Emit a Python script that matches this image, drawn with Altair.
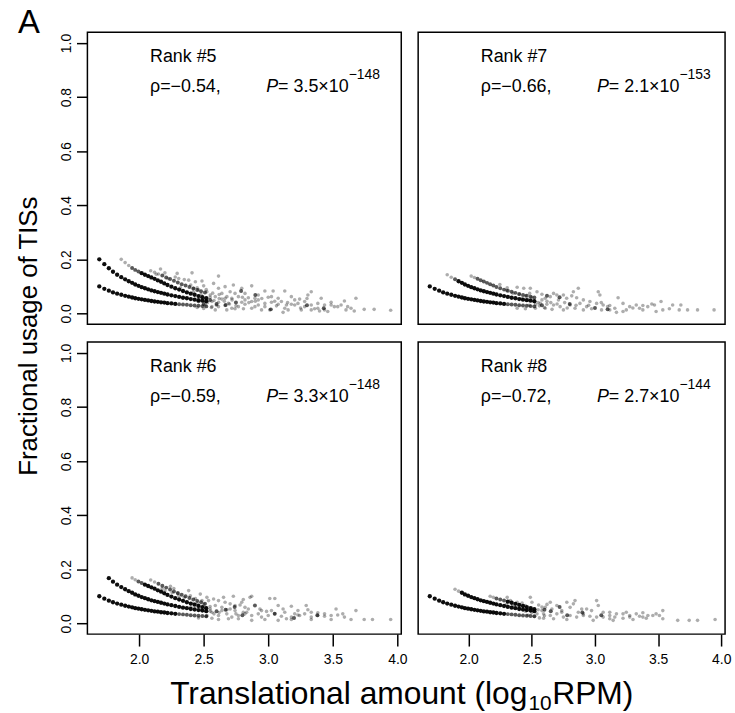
import altair as alt
import pandas as pd

FONT = "Liberation Sans"

# ---------------- data ----------------
PANELS = ["Rank #5", "Rank #7", "Rank #6", "Rank #8"]
RHO = ["\u22120.54", "\u22120.66", "\u22120.59", "\u22120.72"]
P_MANT = ["3.5", "2.1", "3.3", "2.7"]
P_EXP = ["\u2212148", "\u2212153", "\u2212148", "\u2212144"]

X_TICKS = [2.0, 2.5, 3.0, 3.5, 4.0]
Y_TICKS = [0.0, 0.2, 0.4, 0.6, 0.8, 1.0]
X_DOMAIN = [1.60, 4.03]
Y_DOMAIN = [-0.04, 1.04]

# x positions of the discrete low-count curves
CURVE_X = [1.692, 1.731, 1.766, 1.798, 1.830, 1.862, 1.892, 1.920, 1.946, 1.970,
           1.995, 2.020, 2.045, 2.070, 2.095, 2.120, 2.145, 2.170, 2.195, 2.220,
           2.250, 2.280, 2.310, 2.340, 2.370, 2.400, 2.430, 2.460, 2.490, 2.520]
C1_Y = [0.100, 0.091, 0.084, 0.078, 0.073, 0.069, 0.065, 0.062, 0.059, 0.056,
        0.054, 0.052, 0.050, 0.048, 0.046, 0.044, 0.043, 0.041, 0.040, 0.038,
        0.037, 0.035, 0.034, 0.033, 0.032, 0.030, 0.029, 0.028, 0.027, 0.026]
C2_Y = [0.200, 0.182, 0.167, 0.154, 0.143, 0.134, 0.126, 0.119, 0.113, 0.107,
        0.102, 0.097, 0.093, 0.089, 0.085, 0.082, 0.079, 0.076, 0.073, 0.070,
        0.067, 0.064, 0.061, 0.058, 0.056, 0.053, 0.051, 0.049, 0.047, 0.045]
R5_C3_Y = [0.200, 0.188, 0.177, 0.168, 0.161, 0.155, 0.149, 0.143, 0.138, 0.133,
           0.128, 0.122, 0.117, 0.111, 0.105, 0.099, 0.093, 0.088, 0.083, 0.078,
           0.073, 0.069, 0.064, 0.060, 0.056]
R7_C3_Y = [0.138, 0.133, 0.128, 0.123, 0.118, 0.113, 0.108, 0.103, 0.098, 0.093,
           0.088, 0.084, 0.080, 0.076, 0.072, 0.068, 0.065, 0.062, 0.059]
R8_C3_Y = [0.100, 0.096, 0.092, 0.088, 0.084, 0.080, 0.076, 0.072, 0.068, 0.064,
           0.060, 0.056, 0.052]
C4_X = [2.09, 2.12, 2.15, 2.18, 2.21, 2.24, 2.27, 2.30, 2.33, 2.36, 2.39, 2.42,
        2.45, 2.48, 2.51]
R5_C4_Y = [0.158, 0.152, 0.146, 0.140, 0.133, 0.127, 0.121, 0.114, 0.108, 0.103,
           0.098, 0.092, 0.087, 0.082, 0.077]
R6_C4_Y = [0.160, 0.153, 0.146, 0.139, 0.132, 0.125, 0.118, 0.112, 0.106, 0.100,
           0.094, 0.088, 0.083, 0.078, 0.072]

# first index of CURVE_X at which each curve starts in a panel
R5_C3_FROM = 5
R7_C2_FROM = 4
R7_C3_FROM = 11
R6_C2_FROM = 2
R6_C3_FROM = 8
R8_C2_FROM = 6
R8_C3_FROM = 17

# how many genes overlap at each curve point (runs of: count, level)
C1_RUNS = [(22, "many"), (8, "some")]
R5_C2_RUNS = [(30, "many")]
R5_C3_RUNS = [(3, "single"), (3, "some"), (19, "many")]
R5_C4_RUNS = [(3, "single"), (12, "some")]
R7_C2_RUNS = [(2, "single"), (1, "some"), (23, "many")]
R7_C3_RUNS = [(2, "single"), (17, "some")]
R6_C2_RUNS = [(28, "many")]
R6_C3_RUNS = [(2, "single"), (2, "some"), (18, "many")]
R6_C4_RUNS = [(2, "single"), (13, "some")]
R8_C2_RUNS = [(2, "single"), (22, "many")]
R8_C3_RUNS = [(2, "single"), (3, "some"), (8, "many")]

R5_SCATTER = [
    (2.166, 0.164), (2.133, 0.145), (2.295, 0.148), (2.410, 0.150), (2.225, 0.129), (2.307, 0.129),
    (2.384, 0.123), (2.436, 0.117), (2.487, 0.120), (2.500, 0.102), (2.615, 0.138), (2.577, 0.111),
    (2.615, 0.093), (2.666, 0.099), (2.730, 0.105), (2.795, 0.093), (2.820, 0.074), (2.872, 0.102),
    (2.743, 0.074), (2.705, 0.080), (2.769, 0.062), (2.846, 0.058), (2.923, 0.068), (2.974, 0.083),
    (3.038, 0.083), (3.128, 0.083), (3.179, 0.062), (3.243, 0.053), (3.307, 0.068), (3.333, 0.080),
    (3.410, 0.056), (3.487, 0.041), (3.590, 0.046), (3.679, 0.056), (3.487, 0.031), (3.538, 0.025),
    (3.743, 0.015), (3.820, 0.015), (3.948, 0.012), (3.666, 0.009), (3.602, 0.013), (3.436, 0.013),
    (3.384, 0.019), (3.333, 0.031), (3.282, 0.025), (3.230, 0.037), (3.179, 0.034), (3.128, 0.019),
    (3.077, 0.034), (3.025, 0.041), (2.974, 0.037), (2.923, 0.031), (2.872, 0.019), (2.820, 0.034),
    (2.769, 0.025), (2.718, 0.019), (2.666, 0.029), (2.615, 0.041), (2.564, 0.025), (2.512, 0.031),
    (2.590, 0.013), (2.679, 0.013), (2.743, 0.017), (2.808, 0.017), (2.897, 0.025), (2.948, 0.013),
    (3.012, 0.013), (3.064, 0.028), (3.115, 0.004), (3.141, 0.031), (3.205, 0.031), (3.256, 0.013),
    (3.359, 0.017), (3.397, 0.009), (3.461, 0.007), (3.512, 0.025), (3.564, 0.031), (3.615, 0.025),
    (3.641, 0.019), (3.077, 0.056), (3.102, 0.044), (2.923, 0.050), (2.820, 0.050), (2.718, 0.056),
    (2.641, 0.053), (2.590, 0.062), (2.551, 0.068), (2.525, 0.080), (2.461, 0.087), (2.423, 0.093),
    (2.641, 0.074), (2.666, 0.056), (2.872, 0.044), (2.974, 0.025), (3.025, 0.062), (3.205, 0.050),
    (3.282, 0.044), (3.384, 0.037), (3.436, 0.031), (2.692, 0.037), (2.795, 0.041), (2.897, 0.056),
    (2.564, 0.044), (2.615, 0.025), (3.333, 0.013), (3.154, 0.013), (2.400, 0.105), (2.450, 0.095),
    (2.520, 0.088), (2.480, 0.070), (2.550, 0.060), (2.580, 0.048), (2.530, 0.040), (2.600, 0.030),
    (2.560, 0.022), (2.500, 0.018), (2.450, 0.022), (2.620, 0.055), (2.660, 0.045), (2.700, 0.035),
    (2.350, 0.125), (2.280, 0.135), (2.200, 0.150), (2.320, 0.095), (2.420, 0.080), (2.570, 0.075),
    (2.620, 0.070), (2.680, 0.062), (2.720, 0.050), (2.750, 0.028), (2.800, 0.060), (2.850, 0.040),
    (2.900, 0.045), (2.950, 0.055), (3.000, 0.060), (3.050, 0.045), (3.150, 0.040), (3.250, 0.020),
    (3.300, 0.055)]
R5_DARK = [(3.020, 0.015), (2.900, 0.068), (2.790, 0.083), (2.670, 0.031), (3.430, 0.019),
           (2.550, 0.050), (2.600, 0.035), (2.750, 0.040), (3.300, 0.030), (2.500, 0.035),
           (2.460, 0.045)]

R7_SCATTER = [
    (2.247, 0.107), (2.305, 0.095), (2.384, 0.097), (2.436, 0.093), (2.488, 0.093), (2.483, 0.074),
    (2.541, 0.080), (2.580, 0.071), (2.606, 0.056), (2.646, 0.062), (2.672, 0.074), (2.698, 0.068),
    (2.711, 0.050), (2.750, 0.068), (2.776, 0.056), (2.816, 0.065), (2.829, 0.080), (2.868, 0.093),
    (2.855, 0.058), (2.908, 0.050), (2.960, 0.044), (3.026, 0.080), (3.039, 0.068), (3.013, 0.037),
    (3.065, 0.031), (3.117, 0.029), (3.183, 0.058), (3.157, 0.019), (3.222, 0.037), (3.275, 0.025),
    (3.327, 0.031), (3.353, 0.019), (3.379, 0.029), (3.418, 0.025), (3.471, 0.031), (3.523, 0.044),
    (3.537, 0.013), (3.589, 0.017), (3.615, 0.031), (3.667, 0.013), (3.680, 0.031), (3.733, 0.013),
    (3.812, 0.013), (3.943, 0.013), (3.117, 0.013), (3.222, 0.007), (2.934, 0.025), (2.881, 0.037),
    (2.803, 0.031), (2.724, 0.025), (2.672, 0.031), (2.619, 0.034), (2.567, 0.037), (2.528, 0.019),
    (2.750, 0.013), (2.842, 0.019), (2.973, 0.017), (3.052, 0.013), (2.908, 0.013), (3.170, 0.004),
    (3.379, 0.013), (3.484, 0.007), (3.248, 0.013), (2.606, 0.019), (2.449, 0.017), (2.384, 0.019),
    (2.350, 0.075), (2.400, 0.070), (2.450, 0.065), (2.500, 0.060), (2.420, 0.055), (2.470, 0.050),
    (2.520, 0.045), (2.550, 0.040), (2.300, 0.085), (2.580, 0.050), (2.620, 0.045), (2.650, 0.040),
    (2.700, 0.035), (2.560, 0.028), (2.600, 0.022), (2.480, 0.030), (2.530, 0.033), (2.660, 0.015),
    (2.760, 0.040), (2.850, 0.030), (2.950, 0.030), (3.050, 0.040), (3.100, 0.025), (3.300, 0.020),
    (3.450, 0.035), (2.780, 0.020)]
R7_DARK = [(2.720, 0.060), (2.620, 0.065), (2.580, 0.030), (2.800, 0.035), (3.000, 0.020),
           (3.100, 0.015)]

R6_SCATTER = [
    (2.179, 0.129), (2.243, 0.137), (2.269, 0.129), (2.256, 0.114), (2.307, 0.102), (2.384, 0.121),
    (2.397, 0.102), (2.436, 0.092), (2.474, 0.108), (2.487, 0.084), (2.525, 0.096), (2.538, 0.084),
    (2.577, 0.090), (2.615, 0.084), (2.654, 0.096), (2.666, 0.078), (2.730, 0.100), (2.743, 0.066),
    (2.795, 0.078), (2.807, 0.088), (2.820, 0.059), (2.859, 0.096), (2.872, 0.100), (2.936, 0.053),
    (2.987, 0.044), (3.012, 0.092), (3.051, 0.092), (3.077, 0.066), (3.115, 0.053), (3.179, 0.063),
    (3.205, 0.035), (3.243, 0.029), (3.294, 0.066), (3.333, 0.041), (3.384, 0.029), (3.436, 0.035),
    (3.487, 0.014), (3.525, 0.053), (3.577, 0.035), (3.590, 0.023), (3.679, 0.047), (3.641, 0.014),
    (3.743, 0.014), (3.807, 0.014), (3.948, 0.014), (2.564, 0.041), (2.615, 0.029), (2.641, 0.047),
    (2.679, 0.035), (2.718, 0.023), (2.769, 0.029), (2.820, 0.035), (2.872, 0.029), (2.923, 0.035),
    (2.948, 0.023), (3.000, 0.029), (3.051, 0.035), (3.102, 0.026), (3.141, 0.017), (3.179, 0.023),
    (3.230, 0.031), (3.282, 0.035), (3.333, 0.023), (3.384, 0.039), (3.436, 0.026), (3.487, 0.029),
    (3.538, 0.031), (2.692, 0.017), (2.769, 0.017), (2.872, 0.011), (2.974, 0.014), (3.077, 0.011),
    (3.179, 0.014), (3.333, 0.014), (2.615, 0.014), (2.564, 0.019), (2.525, 0.029), (2.590, 0.066),
    (2.641, 0.059), (2.705, 0.053), (2.743, 0.047), (2.807, 0.041), (2.846, 0.053), (2.948, 0.047),
    (3.025, 0.047), (3.128, 0.041), (3.230, 0.047), (3.307, 0.050), (2.705, 0.072), (2.782, 0.068),
    (2.833, 0.041), (2.551, 0.053), (2.512, 0.059), (2.461, 0.066), (2.423, 0.072), (2.200, 0.120),
    (2.300, 0.110), (2.350, 0.095), (2.450, 0.075), (2.500, 0.070), (2.550, 0.062), (2.480, 0.050),
    (2.550, 0.045), (2.580, 0.035), (2.520, 0.025), (2.460, 0.020), (2.620, 0.040), (2.680, 0.050),
    (2.750, 0.035), (2.400, 0.060)]
R6_DARK = [(2.897, 0.066), (2.740, 0.060), (2.670, 0.050), (2.600, 0.045), (3.050, 0.035),
           (3.200, 0.020), (2.800, 0.030), (3.380, 0.030)]

R8_SCATTER = [
    (2.305, 0.096), (2.423, 0.075), (2.488, 0.096), (2.501, 0.078), (2.554, 0.068), (2.580, 0.047),
    (2.606, 0.059), (2.646, 0.078), (2.659, 0.053), (2.698, 0.066), (2.737, 0.047), (2.777, 0.078),
    (2.803, 0.059), (2.829, 0.072), (2.842, 0.084), (2.868, 0.041), (2.895, 0.053), (2.908, 0.029),
    (2.973, 0.047), (3.013, 0.084), (3.026, 0.066), (3.065, 0.041), (3.117, 0.029), (3.157, 0.023),
    (3.222, 0.035), (3.275, 0.029), (3.327, 0.035), (3.379, 0.023), (3.419, 0.029), (3.484, 0.035),
    (3.537, 0.047), (3.537, 0.017), (3.655, 0.011), (3.746, 0.011), (3.812, 0.011), (3.951, 0.014),
    (2.541, 0.035), (2.593, 0.035), (2.646, 0.029), (2.698, 0.035), (2.750, 0.023), (2.803, 0.029),
    (2.855, 0.023), (2.908, 0.035), (2.960, 0.026), (3.013, 0.023), (3.065, 0.023), (3.117, 0.017),
    (3.170, 0.035), (3.222, 0.019), (3.275, 0.023), (3.353, 0.026), (3.406, 0.019), (3.458, 0.029),
    (3.510, 0.029), (2.672, 0.017), (2.777, 0.014), (2.986, 0.011), (3.144, 0.011), (3.301, 0.014),
    (2.593, 0.019), (2.737, 0.041), (2.934, 0.053), (3.117, 0.041), (3.248, 0.041), (3.379, 0.039),
    (2.449, 0.066), (2.462, 0.053), (2.501, 0.056), (2.384, 0.078), (2.331, 0.084), (2.400, 0.060),
    (2.450, 0.045), (2.500, 0.040), (2.550, 0.050), (2.580, 0.060), (2.620, 0.070), (2.520, 0.025),
    (2.470, 0.030), (2.560, 0.020), (2.350, 0.065), (2.300, 0.070), (2.600, 0.028)]
R8_DARK = [(2.720, 0.060), (2.650, 0.045), (2.780, 0.030), (2.600, 0.050), (3.050, 0.030),
           (2.900, 0.040)]

Y_TITLE = "Fractional usage of TISs"
X_TITLE_MAIN = "Translational amount (log"
X_TITLE_SUB = "10"
X_TITLE_END = "RPM)"
PANEL_LETTER = "A"

# ---------------- building tables ----------------
def expand(runs):
    out = []
    for n, level in runs:
        out += [level] * n
    return out


def curve(xs, ys, runs):
    levels = expand(runs)
    assert len(xs) == len(ys) == len(levels), (len(xs), len(ys), len(levels))
    return [{"x": x, "y": y, "overlap": l} for x, y, l in zip(xs, ys, levels)]


def cloud(pairs, level):
    return [{"x": x, "y": y, "overlap": level} for x, y in pairs]


rows = {
    0: (cloud(R5_SCATTER, "single") + cloud(R5_DARK, "some")
        + curve(C4_X, R5_C4_Y, R5_C4_RUNS)
        + curve(CURVE_X[R5_C3_FROM:], R5_C3_Y, R5_C3_RUNS)
        + curve(CURVE_X, C2_Y, R5_C2_RUNS) + curve(CURVE_X, C1_Y, C1_RUNS)),
    1: (cloud(R7_SCATTER, "single") + cloud(R7_DARK, "some")
        + curve(CURVE_X[R7_C3_FROM:], R7_C3_Y, R7_C3_RUNS)
        + curve(CURVE_X[R7_C2_FROM:], C2_Y[R7_C2_FROM:], R7_C2_RUNS)
        + curve(CURVE_X, C1_Y, C1_RUNS)),
    2: (cloud(R6_SCATTER, "single") + cloud(R6_DARK, "some")
        + curve(C4_X, R6_C4_Y, R6_C4_RUNS)
        + curve(CURVE_X[R6_C3_FROM:], R5_C3_Y[R6_C3_FROM - R5_C3_FROM:], R6_C3_RUNS)
        + curve(CURVE_X[R6_C2_FROM:], C2_Y[R6_C2_FROM:], R6_C2_RUNS)
        + curve(CURVE_X, C1_Y, C1_RUNS)),
    3: (cloud(R8_SCATTER, "single") + cloud(R8_DARK, "some")
        + curve(CURVE_X[R8_C3_FROM:], R8_C3_Y, R8_C3_RUNS)
        + curve(CURVE_X[R8_C2_FROM:], C2_Y[R8_C2_FROM:], R8_C2_RUNS)
        + curve(CURVE_X, C1_Y, C1_RUNS)),
}

# ---------------- chart ----------------
LEFT_W, RIGHT_W, PANEL_H = 316, 309, 294
TXT_X, RANK_Y, STAT_Y, EXP_Y = 63, 30, 60, 47
P_DX, EQ_DX, EXP_DX = 117, 129, 200
ANNOT_SIZE = 18
# point look for each overlap level: (opacity, area)
LOOK = {"single": (0.32, 13), "some": (0.65, 16), "many": (0.95, 19)}


def panel(i, left, bottom):
    df = pd.DataFrame(rows[i])
    x_axis = alt.Axis(values=X_TICKS, format=".1f", tickSize=12, tickWidth=1.5,
                      labelFontSize=14, labelPadding=7, title=None, domain=False,
                      grid=False, labelFlush=False, labelOverlap=False) if bottom else None
    y_axis = alt.Axis(values=Y_TICKS, format=".1f", tickSize=11, tickWidth=1.5,
                      labelFontSize=14, labelAngle=270, labelAlign="center",
                      labelBaseline="alphabetic", labelPadding=6, title=None,
                      domain=False, grid=False, labelFlush=False,
                      labelOverlap=False) if left else None
    xenc = alt.X("x:Q", scale=alt.Scale(domain=X_DOMAIN, nice=False, zero=False), axis=x_axis)
    yenc = alt.Y("y:Q", scale=alt.Scale(domain=Y_DOMAIN, nice=False, zero=False), axis=y_axis)
    base_pts = alt.Chart(df)
    layers = []
    for level in ["single", "some", "many"]:
        op, area = LOOK[level]
        layers.append(
            base_pts.transform_filter(alt.datum.overlap == level)
            .mark_circle(color="black", fill="black", opacity=op, fillOpacity=1,
                         size=area, strokeWidth=0)
            .encode(x=xenc, y=yenc)
        )
    lab = pd.DataFrame({"rank": [PANELS[i]],
                        "rho": ["\u03c1=" + RHO[i] + ","],
                        "p": ["P"],
                        "mant": ["= " + P_MANT[i] + "\u00d710"],
                        "exp": [P_EXP[i]]})
    base = alt.Chart(lab)

    def txt(field, dx, y, size=ANNOT_SIZE, style="normal"):
        return base.mark_text(align="left", baseline="alphabetic", font=FONT,
                              fontSize=size, fontStyle=style, color="black").encode(
            x=alt.value(TXT_X + dx), y=alt.value(y), text=alt.Text(field + ":N"))

    layers += [txt("rank", 0, RANK_Y), txt("rho", 0, STAT_Y),
               txt("p", P_DX, STAT_Y, style="italic"), txt("mant", EQ_DX, STAT_Y),
               txt("exp", EXP_DX, EXP_Y, size=14)]

    if i == 0:
        letter = alt.Chart(pd.DataFrame({"t": [PANEL_LETTER]})).mark_text(
            align="center", baseline="alphabetic", font=FONT, fontSize=33, color="black"
        ).encode(x=alt.value(-59), y=alt.value(1), text="t:N")
        layers.append(letter)
    if i == 2:
        ytitle = alt.Chart(pd.DataFrame({"t": [Y_TITLE]})).mark_text(
            align="center", baseline="middle", angle=270, font=FONT, fontSize=26,
            color="black").encode(x=alt.value(-59), y=alt.value(-6), text="t:N")
        xt = pd.DataFrame({"a": [X_TITLE_MAIN], "b": [X_TITLE_SUB], "c": [X_TITLE_END]})
        xmain = alt.Chart(xt).mark_text(align="right", baseline="alphabetic", font=FONT,
                                        fontSize=32, color="black").encode(
            x=alt.value(443), y=alt.value(364), text="a:N")
        xsub = alt.Chart(xt).mark_text(align="left", baseline="alphabetic", font=FONT,
                                       fontSize=21, color="black").encode(
            x=alt.value(444), y=alt.value(370), text="b:N")
        xend = alt.Chart(xt).mark_text(align="left", baseline="alphabetic", font=FONT,
                                       fontSize=32, color="black").encode(
            x=alt.value(468), y=alt.value(364), text="c:N")
        layers += [ytitle, xmain, xsub, xend]

    return alt.layer(*layers).properties(width=LEFT_W if left else RIGHT_W,
                                         height=PANEL_H)


chart = alt.concat(
    panel(0, True, False), panel(1, False, False),
    panel(2, True, True), panel(3, False, True),
    columns=2, spacing={"row": 18, "column": 17}, bounds="flush",
).properties(
    padding={"left": 15, "top": 4, "right": 3, "bottom": 0},
    background="white",
).configure_view(stroke="black", strokeWidth=1.5).configure_axis(
    labelFont=FONT, labelColor="black", tickColor="black")

chart.save("out.html", embed_options={"renderer": "svg", "actions": False})
